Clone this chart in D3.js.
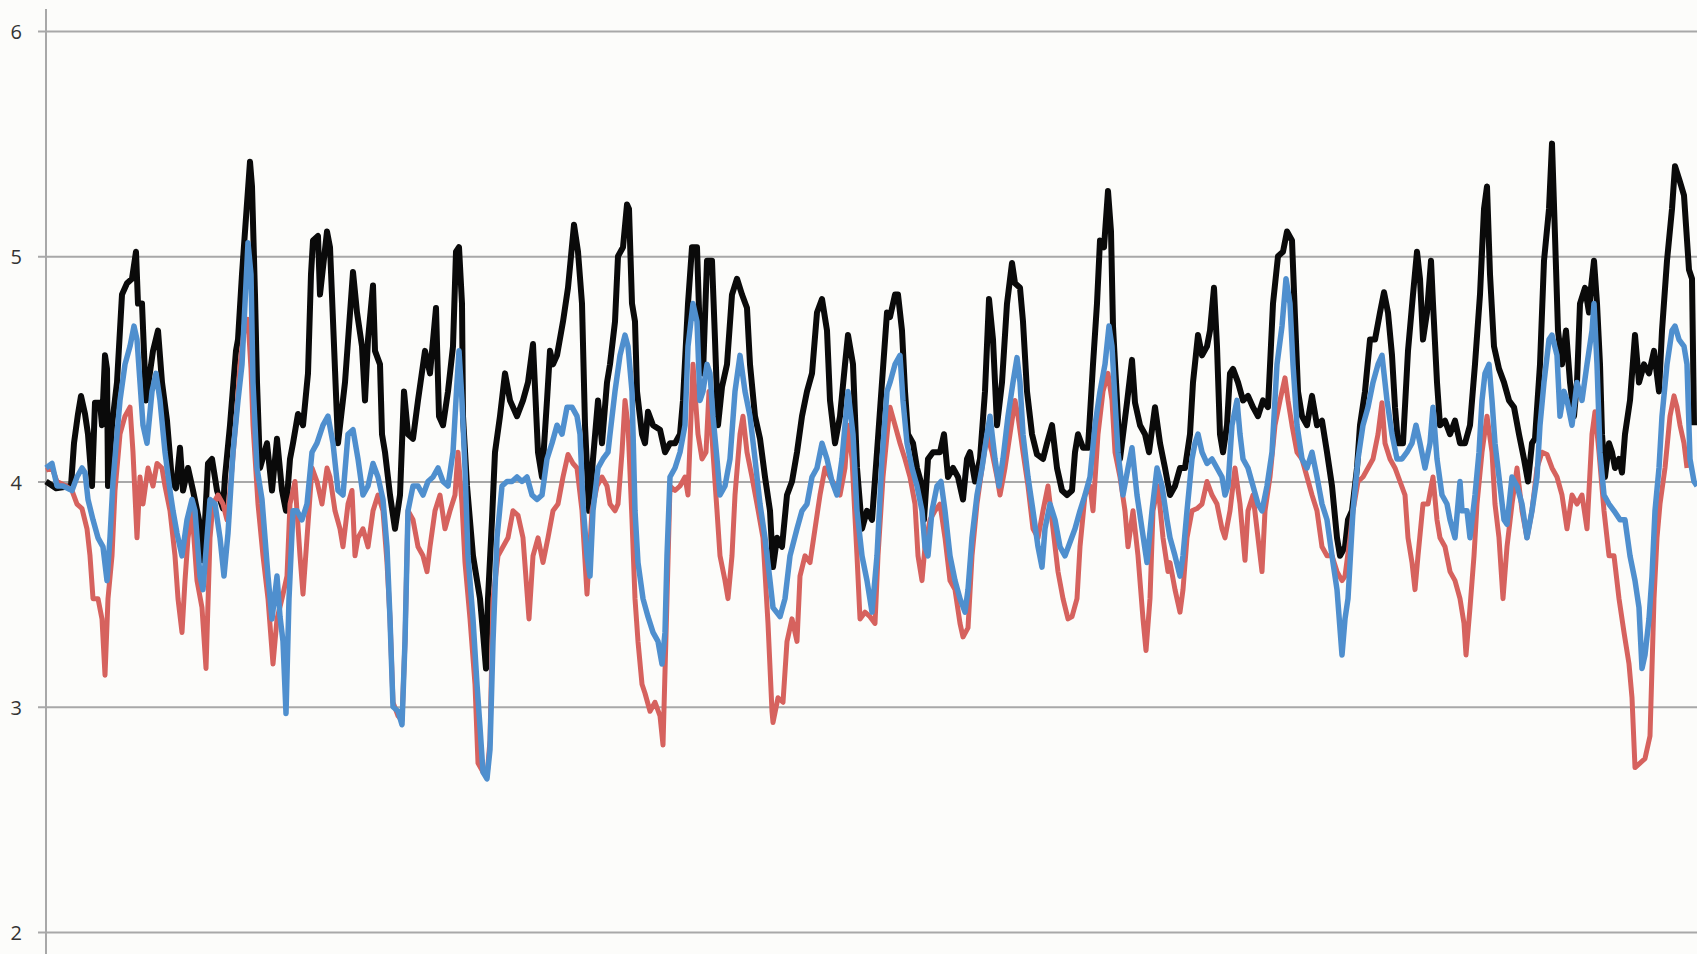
<!DOCTYPE html>
<html>
<head>
<meta charset="utf-8">
<script src="https://cdn.jsdelivr.net/npm/d3@7"></script>
<style>
  body { margin: 0; background: #fcfcfa; }
  .tick text { font-family: "Open Sans", sans-serif; font-size: 20px; fill: #333; }
</style>
</head>
<body>
<div id="plot"></div>
<script>
// chart size and plot box
const svgWidth = 1697;
const svgHeight = 954;
const plot = {left: 46, right: 1697, top: 31, bottom: 932};

// y axis ticks
const yTicks = [2, 3, 4, 5, 6];

// samples: [time, value]
const blackSeries = [
  [0,4.0],[10,3.97],[25,3.98],[28,4.17],[32,4.3],[35,4.38],[39,4.3],[42,4.21],[46,3.98],[49,4.35],[54,4.35],[56,4.25],[59,4.56],[61,4.5],[62,3.98],[66,4.25],[71,4.44],[76,4.83],[81,4.88],[86,4.9],[90,5.02],[92,4.79],[96,4.79],[100,4.36],[107,4.58],[112,4.67],[116,4.44],[121,4.27],[126,4.0],[130,3.97],[134,4.15],[137,3.96],[142,4.06],[147,3.96],[153,3.83],[157,3.65],[162,4.08],[166,4.1],[171,3.96],[177,3.88],[179,4.02],[184,4.25],[190,4.58],[192,4.63],[196,4.92],[199,5.11],[204,5.42],[206,5.31],[209,4.83],[211,4.44],[214,4.06],[221,4.17],[226,3.96],[231,4.19],[236,3.96],[240,3.87],[244,4.1],[247,4.17],[252,4.3],[257,4.25],[262,4.48],[265,4.92],[267,5.07],[272,5.09],[274,4.83],[281,5.11],
  [284,5.04],[292,4.17],[299,4.44],[307,4.93],[311,4.75],[316,4.6],[319,4.36],[322,4.63],[327,4.87],[329,4.58],[334,4.52],[336,4.21],[339,4.13],[344,3.94],[349,3.79],[354,3.94],[358,4.4],[362,4.21],[367,4.19],[372,4.36],[379,4.58],[384,4.48],[390,4.77],[393,4.29],[397,4.25],[402,4.4],[407,4.6],[410,5.02],[413,5.04],[416,4.79],[417,4.29],[421,3.98],[427,3.67],[434,3.48],[437,3.33],[440,3.17],[442,3.48],[446,3.83],[449,4.13],[454,4.29],[459,4.48],[464,4.36],[471,4.29],[477,4.36],[482,4.44],[487,4.61],[492,4.13],[496,4.02],[501,4.36],[504,4.58],[507,4.52],[511,4.56],[517,4.71],[522,4.86],[528,5.14],[532,5.02],[536,4.79],[539,4.25],[543,3.87],[547,4.1],[552,4.36],[556,4.17],[561,4.44],
  [564,4.52],[569,4.71],[572,5.0],[577,5.04],[581,5.23],[583,5.21],[586,4.79],[589,4.71],[591,4.4],[596,4.21],[599,4.17],[602,4.31],[607,4.25],[614,4.23],[619,4.13],[624,4.17],[629,4.17],[634,4.21],[637,4.36],[642,4.79],[646,5.04],[651,5.04],[654,4.63],[657,4.48],[661,4.98],[666,4.98],[669,4.63],[672,4.25],[676,4.42],[681,4.52],[686,4.83],[691,4.9],[696,4.83],[701,4.77],[704,4.52],[709,4.29],[714,4.19],[719,4.02],[724,3.87],[727,3.62],[731,3.75],[736,3.71],[741,3.94],[746,4.0],[751,4.13],[756,4.29],[761,4.4],[766,4.48],[771,4.75],[776,4.81],[781,4.67],[784,4.36],[789,4.17],[794,4.29],[799,4.52],[802,4.65],[807,4.52],[811,4.06],[816,3.79],[821,3.87],[826,3.83],[831,4.13],[836,4.44],[841,4.75],[844,4.73],
  [849,4.83],[852,4.83],[856,4.67],[859,4.4],[862,4.21],[867,4.17],[871,4.06],[876,3.98],[878,3.83],[882,4.1],[887,4.13],[894,4.13],[898,4.21],[902,4.02],[907,4.06],[912,4.02],[917,3.92],[921,4.1],[924,4.13],[929,4.0],[934,4.1],[939,4.4],[943,4.81],[947,4.63],[951,4.25],[956,4.44],[961,4.79],[966,4.97],[969,4.88],[974,4.86],[977,4.71],[981,4.4],[986,4.21],[991,4.12],[997,4.1],[1001,4.17],[1006,4.25],[1011,4.06],[1016,3.96],[1021,3.94],[1026,3.96],[1029,4.13],[1032,4.21],[1037,4.15],[1042,4.15],[1047,4.52],[1051,4.79],[1054,5.07],[1058,5.04],[1062,5.29],[1065,5.11],[1067,4.69],[1071,4.36],[1074,4.1],[1081,4.35],[1086,4.54],[1089,4.35],[1094,4.25],[1099,4.21],[1103,4.13],[1109,4.33],[1114,4.17],[1119,4.06],[1124,3.94],
  [1129,3.98],[1134,4.06],[1139,4.06],[1144,4.21],[1147,4.44],[1152,4.65],[1156,4.56],[1161,4.6],[1164,4.67],[1168,4.86],[1171,4.6],[1174,4.21],[1177,4.13],[1181,4.25],[1184,4.48],[1187,4.5],[1192,4.44],[1197,4.36],[1202,4.38],[1207,4.33],[1212,4.29],[1217,4.36],[1222,4.33],[1227,4.79],[1232,5.0],[1237,5.02],[1241,5.11],[1246,5.07],[1249,4.73],[1252,4.4],[1256,4.29],[1261,4.25],[1266,4.38],[1271,4.25],[1276,4.27],[1281,4.13],[1286,3.98],[1291,3.75],[1294,3.67],[1299,3.71],[1302,3.83],[1306,3.87],[1311,4.06],[1314,4.25],[1319,4.4],[1324,4.63],[1329,4.63],[1334,4.75],[1338,4.84],[1342,4.75],[1346,4.56],[1349,4.33],[1352,4.17],[1357,4.17],[1362,4.58],[1367,4.83],[1371,5.02],[1374,4.9],[1377,4.63],[1381,4.75],[1385,4.98],[1387,4.79],[1391,4.44],[1394,4.25],[1399,4.27],[1404,4.21],
  [1409,4.27],[1414,4.17],[1419,4.17],[1424,4.25],[1429,4.52],[1434,4.83],[1438,5.21],[1441,5.31],[1444,4.92],[1448,4.6],[1453,4.5],[1458,4.44],[1463,4.36],[1468,4.33],[1473,4.21],[1478,4.1],[1482,4.0],[1486,4.17],[1489,4.19],[1494,4.52],[1498,4.98],[1503,5.21],[1506,5.5],[1509,5.09],[1512,4.67],[1516,4.52],[1520,4.67],[1524,4.44],[1528,4.29],[1531,4.44],[1534,4.79],[1539,4.86],[1543,4.75],[1545,4.86],[1548,4.98],[1551,4.79],[1554,4.52],[1556,4.21],[1559,4.02],[1563,4.17],[1566,4.13],[1569,4.06],[1573,4.1],[1576,4.04],[1579,4.21],[1584,4.36],[1589,4.65],[1593,4.44],[1598,4.52],[1603,4.48],[1608,4.58],[1613,4.4],[1616,4.67],[1621,4.98],[1626,5.21],[1629,5.4],[1634,5.33],[1638,5.27],[1643,4.94],[1646,4.9],[1648,4.25]
];

const redSeries = [
  [0,4.05],[6,4.06],[11,4.0],[20,3.98],[26,3.96],[31,3.9],[36,3.88],[41,3.79],[44,3.67],[47,3.48],[52,3.48],[56,3.39],[59,3.14],[62,3.48],[66,3.67],[69,3.96],[74,4.21],[79,4.29],[84,4.33],[87,4.13],[91,3.75],[94,4.02],[97,3.9],[102,4.06],[107,3.98],[111,4.08],[116,4.06],[119,3.98],[124,3.87],[129,3.67],[132,3.48],[136,3.33],[139,3.56],[142,3.75],[146,3.87],[151,3.56],[156,3.44],[160,3.17],[164,3.75],[167,3.9],[172,3.94],[177,3.9],[181,3.83],[186,4.06],[191,4.33],[194,4.52],[198,4.67],[202,4.72],[205,4.5],[207,4.25],[212,3.9],[217,3.67],[222,3.48],[227,3.19],[231,3.39],[236,3.48],[241,3.58],[244,3.9],[249,4.0],[254,3.67],[257,3.5],[261,3.75],[266,4.06],[271,4.0],[276,3.9],[281,4.06],
  [284,4.02],[289,3.87],[294,3.79],[297,3.71],[302,3.9],[306,3.96],[309,3.67],[312,3.75],[317,3.79],[322,3.71],[327,3.87],[332,3.94],[337,3.87],[341,3.64],[344,3.39],[347,3.02],[352,2.96],[356,2.94],[359,3.29],[362,3.87],[367,3.83],[372,3.71],[377,3.67],[381,3.6],[384,3.71],[389,3.87],[394,3.94],[399,3.79],[404,3.87],[409,3.94],[412,4.13],[416,3.9],[419,3.64],[424,3.39],[429,3.1],[432,2.75],[437,2.71],[441,2.69],[444,2.85],[447,3.48],[452,3.67],[457,3.71],[462,3.75],[467,3.87],[472,3.85],[477,3.75],[483,3.39],[487,3.67],[492,3.75],[497,3.64],[502,3.75],[507,3.87],[512,3.9],[517,4.02],[522,4.12],[527,4.08],[531,4.06],[536,3.87],[541,3.5],[546,3.87],[551,3.98],[556,4.02],[561,3.98],
  [564,3.9],[569,3.87],[572,3.9],[576,4.13],[579,4.36],[582,4.25],[586,3.83],[589,3.48],[592,3.29],[596,3.1],[599,3.06],[604,2.98],[609,3.02],[614,2.96],[617,2.83],[621,3.48],[624,3.98],[629,3.96],[634,3.98],[639,4.02],[642,3.94],[647,4.52],[652,4.21],[656,4.1],[660,4.13],[663,4.4],[667,4.13],[671,3.87],[674,3.67],[679,3.56],[682,3.48],[686,3.67],[689,3.94],[694,4.21],[697,4.29],[701,4.13],[706,4.02],[711,3.9],[717,3.75],[722,3.37],[726,2.98],[727,2.93],[732,3.04],[737,3.02],[741,3.29],[746,3.39],[751,3.29],[754,3.58],[759,3.67],[764,3.64],[769,3.79],[774,3.94],[779,4.06],[784,4.02],[789,3.98],[794,3.94],[799,4.06],[802,4.25],[806,4.1],[811,3.67],[814,3.39],[819,3.42],[824,3.4],[829,3.37],[832,3.67],[837,4.02],[842,4.25],
  [844,4.33],[849,4.25],[854,4.17],[859,4.1],[864,4.02],[869,3.9],[872,3.67],[876,3.56],[879,3.71],[884,3.83],[889,3.87],[894,3.9],[899,3.75],[904,3.56],[909,3.52],[914,3.37],[917,3.31],[922,3.35],[926,3.67],[931,3.9],[936,4.06],[941,4.21],[946,4.13],[951,4.02],[954,3.94],[959,4.06],[964,4.21],[969,4.36],[972,4.29],[977,4.13],[982,3.98],[987,3.79],[992,3.75],[997,3.87],[1002,3.98],[1007,3.79],[1012,3.6],[1017,3.48],[1022,3.39],[1026,3.4],[1031,3.48],[1034,3.71],[1039,3.94],[1044,3.98],[1047,3.87],[1052,4.21],[1057,4.4],[1062,4.48],[1066,4.36],[1069,4.13],[1074,4.02],[1079,3.87],[1082,3.71],[1087,3.87],[1092,3.67],[1097,3.39],[1100,3.25],[1104,3.48],[1107,3.87],[1112,3.98],[1117,3.75],[1122,3.6],
  [1124,3.64],[1129,3.52],[1134,3.42],[1137,3.52],[1141,3.75],[1146,3.87],[1151,3.88],[1156,3.9],[1161,4.0],[1166,3.94],[1171,3.9],[1176,3.79],[1179,3.75],[1184,3.87],[1189,4.06],[1194,3.9],[1199,3.65],[1202,3.87],[1207,3.94],[1212,3.75],[1216,3.6],[1219,3.87],[1224,4.02],[1229,4.25],[1234,4.36],[1239,4.46],[1242,4.36],[1246,4.25],[1251,4.13],[1256,4.1],[1261,4.02],[1266,3.94],[1271,3.87],[1276,3.71],[1281,3.67],[1286,3.67],[1291,3.6],[1296,3.56],[1299,3.58],[1304,3.75],[1307,3.87],[1312,4.0],[1317,4.02],[1322,4.06],[1327,4.1],[1332,4.21],[1336,4.35],[1339,4.17],[1344,4.1],[1349,4.06],[1354,4.0],[1359,3.94],[1362,3.75],[1366,3.64],[1369,3.52],[1372,3.67],[1377,3.9],[1382,3.9],[1387,4.02],
  [1391,3.83],[1394,3.75],[1399,3.71],[1404,3.6],[1409,3.56],[1414,3.48],[1418,3.37],[1420,3.23],[1424,3.44],[1428,3.67],[1431,3.9],[1436,4.13],[1441,4.29],[1446,4.13],[1449,3.9],[1453,3.75],[1457,3.48],[1461,3.71],[1466,3.9],[1471,4.06],[1476,3.87],[1481,3.75],[1486,3.87],[1491,4.06],[1496,4.13],[1501,4.12],[1506,4.06],[1511,4.02],[1516,3.94],[1521,3.79],[1526,3.94],[1531,3.9],[1536,3.94],[1541,3.79],[1546,4.21],[1549,4.31],[1553,4.13],[1558,3.87],[1563,3.67],[1568,3.67],[1573,3.48],[1578,3.33],[1583,3.19],[1586,3.04],[1589,2.73],[1594,2.75],[1599,2.77],[1604,2.87],[1608,3.48],[1611,3.75],[1614,3.9],[1619,4.06],[1624,4.29],[1628,4.38],[1631,4.33],[1634,4.25],[1638,4.17],[1641,4.06]
];

const blueSeries = [
  [0,4.06],[6,4.08],[11,3.98],[17,3.98],[26,3.96],[31,4.02],[36,4.06],[39,4.04],[42,3.92],[47,3.83],[52,3.75],[57,3.71],[61,3.56],[64,3.75],[67,4.0],[71,4.21],[74,4.36],[79,4.52],[84,4.6],[88,4.69],[91,4.63],[94,4.44],[97,4.25],[101,4.17],[106,4.4],[110,4.48],[114,4.36],[119,4.13],[124,3.96],[127,3.87],[131,3.77],[136,3.67],[141,3.83],[146,3.92],[149,3.87],[154,3.58],[157,3.52],[161,3.75],[164,3.92],[169,3.9],[174,3.75],[178,3.58],[182,3.77],[187,4.13],[192,4.36],[196,4.52],[199,4.79],[202,5.06],[205,4.92],[207,4.44],[211,4.06],[216,3.92],[219,3.75],[222,3.58],[226,3.39],[231,3.58],[234,3.4],[237,3.29],[240,2.97],[243,3.48],[247,3.87],[251,3.87],[256,3.83],[261,3.9],[266,4.13],[271,4.17],[277,4.25],[282,4.29],
  [287,4.17],[292,3.96],[297,3.94],[302,4.21],[307,4.23],[312,4.1],[317,3.94],[322,3.98],[327,4.08],[332,4.02],[337,3.92],[341,3.71],[344,3.39],[347,3.0],[352,2.98],[356,2.92],[359,3.29],[362,3.87],[367,3.98],[372,3.98],[377,3.94],[382,4.0],[387,4.02],[392,4.06],[397,4.0],[402,3.98],[407,4.13],[411,4.44],[413,4.58],[416,4.36],[419,4.06],[422,3.67],[427,3.39],[431,3.1],[434,2.91],[437,2.71],[441,2.68],[444,2.81],[447,3.29],[451,3.75],[456,3.98],[461,4.0],[466,4.0],[471,4.02],[476,4.0],[481,4.02],[486,3.94],[491,3.92],[496,3.94],[501,4.1],[506,4.17],[511,4.25],[516,4.21],[521,4.33],[526,4.33],[531,4.29],[534,4.21],[537,3.9],[541,3.67],[544,3.58],[547,3.87],[552,4.06],[557,4.1],[562,4.13],
  [564,4.21],[569,4.4],[574,4.56],[579,4.65],[582,4.6],[586,4.4],[589,3.87],[592,3.64],[597,3.48],[602,3.4],[607,3.33],[612,3.29],[616,3.19],[619,3.33],[621,3.67],[624,4.02],[629,4.06],[634,4.13],[639,4.25],[642,4.6],[647,4.79],[651,4.71],[654,4.36],[657,4.4],[661,4.52],[664,4.48],[667,4.29],[671,4.1],[674,3.94],[679,3.98],[684,4.1],[689,4.4],[694,4.56],[699,4.4],[704,4.29],[709,4.1],[714,3.9],[719,3.75],[724,3.56],[727,3.44],[734,3.4],[739,3.48],[744,3.67],[751,3.79],[756,3.87],[761,3.9],[766,4.02],[771,4.06],[776,4.17],[781,4.1],[786,4.0],[791,3.94],[796,4.1],[799,4.25],[802,4.4],[807,4.21],[811,3.87],[816,3.67],[821,3.56],[826,3.42],[831,3.67],[836,4.1],[841,4.4],[844,4.44],
  [849,4.52],[854,4.56],[857,4.36],[861,4.17],[866,4.06],[871,3.98],[876,3.87],[879,3.71],[882,3.67],[886,3.87],[891,3.98],[895,4.0],[899,3.87],[904,3.67],[909,3.56],[914,3.48],[919,3.42],[922,3.52],[926,3.75],[931,3.94],[936,4.06],[941,4.21],[944,4.29],[949,4.1],[953,3.98],[957,4.1],[962,4.29],[967,4.44],[971,4.55],[974,4.44],[977,4.21],[982,4.02],[987,3.87],[992,3.71],[996,3.62],[999,3.79],[1004,3.9],[1009,3.83],[1014,3.71],[1019,3.67],[1024,3.73],[1029,3.79],[1034,3.87],[1039,3.94],[1044,4.02],[1049,4.25],[1054,4.4],[1059,4.52],[1063,4.69],[1066,4.6],[1069,4.36],[1072,4.13],[1077,3.94],[1082,4.06],[1086,4.15],[1091,3.94],[1096,3.79],[1101,3.64],[1106,3.87],[1111,4.06],[1116,3.98],[1121,3.83],
  [1124,3.75],[1129,3.67],[1134,3.58],[1137,3.67],[1141,3.87],[1146,4.1],[1149,4.17],[1152,4.21],[1156,4.13],[1161,4.08],[1166,4.1],[1171,4.06],[1176,4.02],[1179,3.94],[1182,3.98],[1186,4.25],[1191,4.36],[1194,4.21],[1197,4.1],[1202,4.06],[1207,3.98],[1212,3.9],[1216,3.87],[1221,3.98],[1226,4.13],[1231,4.52],[1236,4.69],[1240,4.9],[1244,4.79],[1247,4.52],[1251,4.25],[1256,4.1],[1261,4.06],[1266,4.13],[1271,4.02],[1276,3.9],[1281,3.83],[1286,3.67],[1291,3.52],[1296,3.23],[1299,3.39],[1302,3.48],[1307,3.87],[1312,4.1],[1317,4.25],[1322,4.33],[1327,4.44],[1332,4.52],[1336,4.56],[1341,4.36],[1346,4.21],[1351,4.1],[1356,4.1],[1361,4.13],[1366,4.17],[1370,4.25],[1374,4.17],[1379,4.06],[1384,4.17],[1387,4.33],[1391,4.1],[1396,3.94],[1401,3.9],
  [1404,3.83],[1409,3.75],[1414,4.0],[1416,3.87],[1421,3.87],[1424,3.75],[1429,3.94],[1433,4.13],[1436,4.36],[1439,4.48],[1443,4.52],[1446,4.36],[1449,4.17],[1453,4.02],[1458,3.83],[1461,3.81],[1466,4.02],[1471,3.98],[1476,3.9],[1481,3.75],[1486,3.87],[1491,4.02],[1494,4.25],[1498,4.44],[1503,4.63],[1506,4.65],[1511,4.56],[1514,4.29],[1518,4.4],[1521,4.36],[1526,4.25],[1531,4.44],[1536,4.36],[1541,4.52],[1546,4.67],[1548,4.79],[1551,4.52],[1554,4.13],[1558,3.94],[1563,3.9],[1568,3.87],[1574,3.83],[1579,3.83],[1584,3.67],[1589,3.56],[1593,3.44],[1596,3.17],[1599,3.23],[1603,3.39],[1606,3.58],[1609,3.87],[1613,4.06],[1616,4.29],[1621,4.52],[1626,4.67],[1629,4.69],[1633,4.63],[1638,4.6],[1641,4.52],[1644,4.1],[1648,4.0],[1651,3.98]
];

const gridColor = "#a8a8a8";

let svg = d3.select("#plot")
  .append("svg")
  .attr("width", svgWidth)
  .attr("height", svgHeight)
  .style("display", "block")
  .style("background", "#fcfcfa");

// scales
var x = d3.scaleLinear()
  .domain([0, 1651])
  .range([plot.left, plot.right]);

var y = d3.scaleLinear()
  .domain([2, 6])
  .range([plot.bottom, plot.top]);

// horizontal grid lines
svg.append("g")
  .attr("transform", "translate(" + plot.left + ",0)")
  .call(d3.axisLeft(y).tickValues(yTicks).tickSize(-(plot.right - plot.left)).tickFormat(""))
  .call(g => g.select(".domain").remove())
  .call(g => g.selectAll("line").attr("stroke", gridColor).attr("stroke-width", 2));

// y axis with outside ticks and labels
svg.append("g")
  .attr("transform", "translate(" + plot.left + ",0)")
  .call(d3.axisLeft(y).tickValues(yTicks).tickSize(8).tickPadding(16).tickFormat(d3.format("d")))
  .call(g => g.select(".domain").remove())
  .call(g => g.selectAll("line").attr("stroke", gridColor).attr("stroke-width", 2))
  .call(g => g.selectAll("text").attr("dy", "0.38em"));

// vertical axis line runs the full height
svg.append("line")
  .attr("x1", plot.left).attr("x2", plot.left)
  .attr("y1", 9).attr("y2", svgHeight)
  .attr("stroke", gridColor)
  .attr("stroke-width", 2);

var line = d3.line()
  .x(function(d) { return x(d[0]); })
  .y(function(d) { return y(d[1]); });

// series, blue drawn last
var series = [
  {data: blackSeries, color: "#0a0a0a", width: 6},
  {data: redSeries, color: "#d6625e", width: 5},
  {data: blueSeries, color: "#4f8fce", width: 5.5}
];

svg.selectAll("path.series")
  .data(series)
  .enter()
  .append("path")
  .attr("class", "series")
  .attr("d", function(d) { return line(d.data); })
  .attr("fill", "none")
  .attr("stroke", function(d) { return d.color; })
  .attr("stroke-width", function(d) { return d.width; })
  .attr("stroke-linejoin", "round");
</script>
</body>
</html>
